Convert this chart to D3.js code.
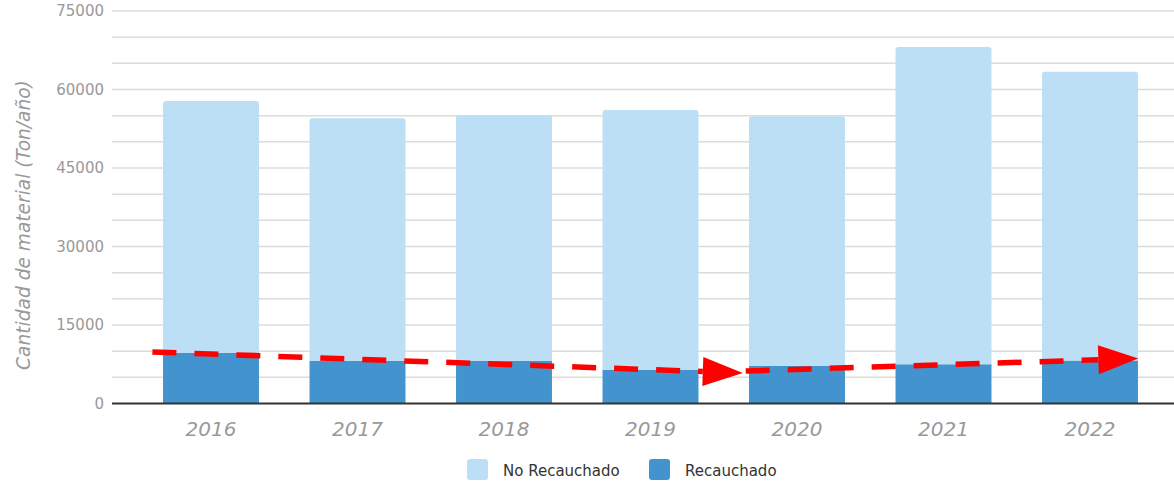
<!DOCTYPE html>
<html>
<head>
<meta charset="utf-8">
<script src="https://cdn.jsdelivr.net/npm/d3@7"></script>
<style>
  html, body { margin: 0; padding: 0; background: #fff; }
  svg { display: block; }
</style>
</head>
<body>
<svg id="chart" width="1174" height="481"></svg>
<script>
// Tyre material per year, tonnes
const years = ["2016", "2017", "2018", "2019", "2020", "2021", "2022"];
const recauchado = [9700, 8100, 8100, 6400, 7150, 7500, 8200];
const totals = [57800, 54500, 55100, 56100, 54900, 68100, 63400];
const noRecauchado = totals.map((t, i) => t - recauchado[i]);
const yTicks = [0, 15000, 30000, 45000, 60000, 75000];
const seriesNames = ["No Recauchado", "Recauchado"];
// Trend arrows: [year index, tonnes] start and tip
const trendArrows = [
  [[-0.4, 9850], [3.63, 5850]],
  [[3.65, 6200], [6.33, 8600]]
];

const colors = { "No Recauchado": "#bddff5", "Recauchado": "#4394ce" };
const svg = d3.select("#chart");
const plotLeft = 112, plotRight = 1174, plotTop = 11, plotBottom = 403.5;

const x = d3.scaleBand().domain(years).range([137.75, 1163.25])
  .paddingInner(0.345).paddingOuter(0.1725);
const y = d3.scaleLinear().domain([0, 75000]).range([plotBottom, plotTop]);
const xIdx = d3.scaleLinear().domain([0, 1])
  .range([x(years[0]) + x.bandwidth() / 2, x(years[1]) + x.bandwidth() / 2]);

// Grid lines every 5000
const grid = d3.range(5000, 75001, 5000);
svg.append("g").selectAll("line").data(grid).join("line")
  .attr("x1", plotLeft).attr("x2", plotRight)
  .attr("y1", d => y(d)).attr("y2", d => y(d))
  .attr("stroke", "#dcdcdc").attr("stroke-width", 1.5);

// Y axis labels
const yAxis = d3.axisLeft(y).tickValues(yTicks).tickSize(0).tickPadding(8)
  .tickFormat(d3.format("d"));
svg.append("g").attr("transform", `translate(${plotLeft},0)`).call(yAxis)
  .call(g => g.select(".domain").remove())
  .call(g => g.selectAll("text")
    .attr("font-family", "DejaVu Sans, Verdana, sans-serif")
    .attr("font-size", 15).attr("fill", "#999"));

// Stacked bars
const stackData = years.map((yr, i) => ({ year: yr, "Recauchado": recauchado[i], "No Recauchado": noRecauchado[i] }));
const stack = d3.stack().keys(["Recauchado", "No Recauchado"])(stackData);

function topRoundedRect(x0, y0, w, h, r) {
  return `M${x0},${y0 + h}V${y0 + r}Q${x0},${y0} ${x0 + r},${y0}H${x0 + w - r}Q${x0 + w},${y0} ${x0 + w},${y0 + r}V${y0 + h}Z`;
}

stack.forEach(layer => {
  svg.append("g").selectAll("path").data(layer).join("path")
    .attr("fill", colors[layer.key])
    .attr("d", d => {
      const x0 = x(d.data.year), w = x.bandwidth();
      const y0 = y(d[1]), h = y(d[0]) - y(d[1]);
      return layer.key === "No Recauchado" ? topRoundedRect(x0, y0, w, h, 3)
        : `M${x0},${y0}h${w}v${h}h${-w}Z`;
    });
});

// Baseline
svg.append("line").attr("x1", plotLeft).attr("x2", plotRight)
  .attr("y1", y(0)).attr("y2", y(0)).attr("stroke", "#333").attr("stroke-width", 2);

// X axis labels
const xAxis = d3.axisBottom(x).tickSize(0).tickPadding(18);
svg.append("g").attr("transform", `translate(0,${y(0)})`).call(xAxis)
  .call(g => g.select(".domain").remove())
  .call(g => g.selectAll("text")
    .attr("font-family", "DejaVu Sans, Verdana, sans-serif")
    .attr("font-style", "italic").attr("font-size", 20).attr("fill", "#999"));

// Y title
svg.append("text")
  .attr("transform", `translate(30,225) rotate(-90)`)
  .attr("text-anchor", "middle")
  .attr("font-family", "DejaVu Sans, Verdana, sans-serif")
  .attr("font-style", "italic").attr("font-size", 18.6).attr("fill", "#999")
  .text("Cantidad de material (Ton/año)");

// Trend arrows
const headLen = 40, headHalf = 14.5;
trendArrows.forEach(([a, b]) => {
  const x1 = xIdx(a[0]), y1 = y(a[1]), x2 = xIdx(b[0]), y2 = y(b[1]);
  const ang = Math.atan2(y2 - y1, x2 - x1);
  const bx = x2 - headLen * Math.cos(ang), by = y2 - headLen * Math.sin(ang);
  svg.append("line").attr("x1", x1).attr("y1", y1).attr("x2", bx).attr("y2", by)
    .attr("stroke", "#ff0000").attr("stroke-width", 5.5).attr("stroke-dasharray", "24 18");
  const px = -Math.sin(ang) * headHalf, py = Math.cos(ang) * headHalf;
  svg.append("path").attr("fill", "#ff0000")
    .attr("d", `M${x2},${y2}L${bx + px},${by + py}L${bx - px},${by - py}Z`);
});

// Legend
const legendX = [467, 649];
const legend = svg.append("g");
seriesNames.forEach((name, i) => {
  legend.append("rect").attr("x", legendX[i]).attr("y", 459).attr("width", 21).attr("height", 21)
    .attr("rx", 3).attr("fill", colors[name]);
  legend.append("text").attr("x", legendX[i] + 36).attr("y", 476)
    .attr("font-family", "DejaVu Sans, Verdana, sans-serif").attr("font-size", 15)
    .attr("fill", "#333").text(name);
});
</script>
</body>
</html>
